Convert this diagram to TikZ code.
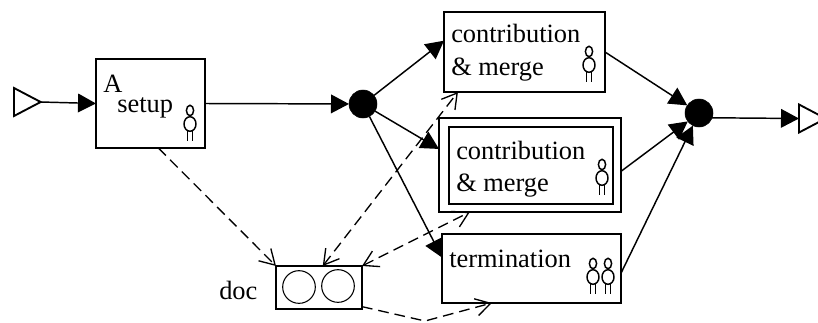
\documentclass[tikz,border=0pt]{standalone}
\usepackage{fontspec}
\setmainfont{Liberation Serif}
\usetikzlibrary{arrows.meta,positioning,shapes.geometric}

\begin{document}
\begin{tikzpicture}[
    x=0.75pt, y=0.75pt,
    box/.style={rectangle, draw, line width=1.4pt, inner sep=0pt, outer sep=0pt},
    junction/.style={circle, fill=black, draw, minimum size=21pt, inner sep=0pt, outer sep=0pt},
    port/.style={isosceles triangle, isosceles triangle stretches, draw, line width=1.4pt, minimum width=21pt, minimum height=20pt, inner sep=0pt, outer sep=0pt, anchor=lower side},
    disc/.style={circle, draw, line width=0.8pt, minimum size=24.5pt, inner sep=0pt},
    txt/.style={anchor=base west, inner sep=0pt, font=\fontsize{19.8}{24}\selectfont},
    arrow/.style={-{Triangle[length=13.5pt,width=14pt]}, line width=1.1pt},
    flow/.style={-{Straight Barb[length=11pt,width=13pt]}, line width=1pt, dash pattern=on 8pt off 4.5pt},
    flowboth/.style={{Straight Barb[length=11pt,width=13pt]}-{Straight Barb[length=11pt,width=13pt]}, line width=1pt, dash pattern=on 8pt off 4.5pt},
    person/.pic={
        \draw[line width=1.1pt] (0,13.5) ellipse [x radius=3.6, y radius=5.2];
        \draw[line width=1.1pt] (0,0) ellipse [x radius=6, y radius=7.3];
        \draw[line width=1.1pt] (-2.6,-7) -- (-2.6,-16.5);
        \draw[line width=1.1pt] (2.6,-7) -- (2.6,-16.5);
    }
]
\useasboundingbox (0,0) rectangle (818,-322);

% Ports and junctions
\node[port] (start) at (14,-102) {};
\node[port] (finish) at (799,-118.5) {};
\node[junction] (split) at (363,-104) {};
\node[junction] (join) at (699,-113) {};

% Tasks
\node[box, minimum width=81.75pt, minimum height=66.75pt] (setup) at (150.5,-103.5) {};
\node[box, minimum width=120.75pt, minimum height=60pt] (contrib) at (524.5,-52) {};
\node[box, minimum width=136.5pt, minimum height=70.5pt] (multi) at (530,-165) {};
\node[box, minimum width=123pt, minimum height=57.75pt] (multiin) at (531,-165.5) {};
\node[box, minimum width=134.25pt, minimum height=51.75pt] (term) at (531.5,-268.5) {};

% Document
\node[box, line width=1.1pt, minimum width=64.5pt, minimum height=32.25pt] (doc) at (319,-287.5) {};
\node[disc] (disc1) at (299,-287) {};
\node[disc] (disc2) at (338,-286) {};
\coordinate (bend) at (425,-321);

% Labels
\node[txt] (tA) at (103,-92) {A};
\node[txt] (tsetup) at (117,-112) {setup};
\node[txt] (tcontrib1) at (451,-42) {contribution};
\node[txt] (tmerge1) at (451,-75) {\&~merge};
\node[txt] (tcontrib2) at (456,-159) {contribution};
\node[txt] (tmerge2) at (456,-191) {\&~merge};
\node[txt] (tterm) at (449,-267) {termination};
\node[txt] (tdoc) at (219,-299) {doc};

% Roles
\pic at (190,-124) {person};
\pic at (589,-65) {person};
\pic at (602,-178) {person};
\pic at (593,-277) {person};
\pic at (608,-277) {person};

% Flow
\draw[arrow] (start.apex) -- (setup.west);
\draw[arrow] (setup.east) -- (split);
\draw[arrow] (split) -- (contrib.172);
\draw[arrow] (split) -- (multi.170);
\draw[arrow] (split) -- (term.173);
\draw[arrow] (contrib.east) -- (join);
\draw[arrow] (multi.356) -- (join);
\draw[arrow] (term.357) -- (join);
\draw[arrow] (join.340) -- (finish.lower side);

% Data
\draw[flow] (setup.280) -- (doc.north west);
\draw[flowboth] (doc.80) -- (contrib.211);
\draw[flowboth] (doc.north east) -- (multi.218);
\draw[flow] (doc.336) -- (bend) -- (term.221);
\end{tikzpicture}
\end{document}
